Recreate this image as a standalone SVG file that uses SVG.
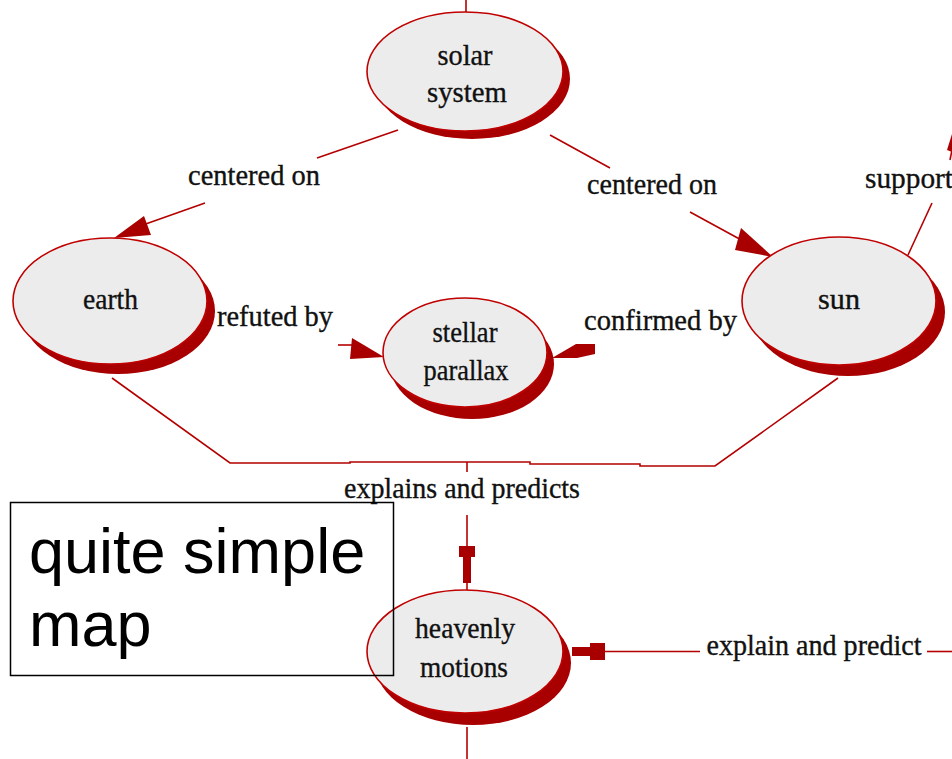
<svg xmlns="http://www.w3.org/2000/svg" width="952" height="759" viewBox="0 0 952 759">
<style>
.shadow{fill:#a80000;stroke:none}
.node{fill:#ececec;stroke:#c00000;stroke-width:1.6}
.lbl{font-family:"Liberation Serif","DejaVu Serif",serif;font-size:29px;fill:#111;stroke:#111;stroke-width:0.35;text-anchor:middle}
.ln{fill:none;stroke:#b40000;stroke-width:1.6}
.ah{fill:#a80000;stroke:none}
.note{fill:none;stroke:#000;stroke-width:1.5}
.notetxt{font-family:"Liberation Sans",Arial,sans-serif;font-size:63px;fill:#000}
</style>
<rect width="952" height="759" fill="#fff"/>
<g id="connectors">
  <line class="ln" x1="466" y1="0" x2="466" y2="13"/>
  <!-- solar system -> earth -->
  <line class="ln" x1="398" y1="130" x2="317" y2="158"/>
  <line class="ln" x1="205" y1="203" x2="140" y2="226"/>
  <polygon class="ah" points="114,238 144,216 151,235"/>
  <!-- solar system -> sun -->
  <line class="ln" x1="550" y1="135" x2="610" y2="168"/>
  <line class="ln" x1="690" y1="212" x2="745" y2="242"/>
  <polygon class="ah" points="735,250 741,228 773,257"/>
  <!-- earth -> stellar parallax -->
  <line class="ln" x1="338" y1="345" x2="352" y2="345"/>
  <polygon class="ah" points="352,338 384,357 350,359"/>
  <!-- sun -> stellar parallax -->
  <polygon class="ah" points="552,358 576,344 595,344 595,354 577,358"/>
  <!-- earth & sun -> heavenly motions -->
  <polyline class="ln" points="112,378 230,463 350,463 350,462 530,462 530,464 640,464 640,466 715,466 838,378"/>
  <line class="ln" x1="467" y1="462" x2="467" y2="472"/>
  <line class="ln" x1="467" y1="515" x2="467" y2="590"/>
  <polygon class="ah" points="459,546 475,546 475,557 471,557 471,583 463,583 463,557 459,557"/>
  <!-- sun -> supports -->
  <line class="ln" x1="908" y1="255" x2="932" y2="203"/>
  <polygon class="ah" points="947,150 952,134 952,152"/>
  <line class="ln" x1="950" y1="160" x2="952" y2="150"/>
  <!-- explain and predict -> heavenly motions -->
  <line class="ln" x1="605" y1="651.5" x2="700" y2="651.5"/>
  <line class="ln" x1="927" y1="651.5" x2="952" y2="651.5"/>
  <polygon class="ah" points="572,647 590,647 590,643 605,643 605,660 590,660 590,656 572,656"/>
  <!-- heavenly motions downward -->
  <line class="ln" x1="467" y1="727" x2="467" y2="759"/>
</g>
<g id="solar-system">
  <ellipse class="shadow" cx="472" cy="79" rx="98" ry="60"/>
  <ellipse class="node" cx="465" cy="71.5" rx="98" ry="59.5"/>
  <text class="lbl" x="465" y="65" textLength="55" lengthAdjust="spacingAndGlyphs">solar</text>
  <text class="lbl" x="467" y="102" textLength="80" lengthAdjust="spacingAndGlyphs">system</text>
</g>
<g id="earth">
  <ellipse class="shadow" cx="118" cy="311" rx="97" ry="63"/>
  <ellipse class="node" cx="110" cy="301" rx="97" ry="63"/>
  <text class="lbl" x="110.5" y="309" textLength="55" lengthAdjust="spacingAndGlyphs">earth</text>
</g>
<g id="sun">
  <ellipse class="shadow" cx="848" cy="312" rx="97" ry="64"/>
  <ellipse class="node" cx="839" cy="301" rx="97" ry="64"/>
  <text class="lbl" x="839" y="309" textLength="42" lengthAdjust="spacingAndGlyphs">sun</text>
</g>
<g id="stellar-parallax">
  <ellipse class="shadow" cx="472" cy="364" rx="82" ry="55"/>
  <ellipse class="node" cx="465" cy="352.5" rx="82" ry="54.5"/>
  <text class="lbl" x="465" y="342" textLength="65" lengthAdjust="spacingAndGlyphs">stellar</text>
  <text class="lbl" x="466" y="380" textLength="85" lengthAdjust="spacingAndGlyphs">parallax</text>
</g>
<g id="heavenly-motions">
  <ellipse class="shadow" cx="473" cy="663" rx="98" ry="62"/>
  <ellipse class="node" cx="465" cy="651.5" rx="98" ry="61.5"/>
  <text class="lbl" x="465" y="638" textLength="100" lengthAdjust="spacingAndGlyphs">heavenly</text>
  <text class="lbl" x="464" y="677" textLength="88" lengthAdjust="spacingAndGlyphs">motions</text>
</g>
<g id="labels">
  <text class="lbl" x="254" y="185" textLength="132" lengthAdjust="spacingAndGlyphs">centered on</text>
  <text class="lbl" x="652" y="194" textLength="130" lengthAdjust="spacingAndGlyphs">centered on</text>
  <text class="lbl" x="275" y="326" textLength="116" lengthAdjust="spacingAndGlyphs">refuted by</text>
  <text class="lbl" x="660.5" y="330" textLength="153" lengthAdjust="spacingAndGlyphs">confirmed by</text>
  <text class="lbl" x="462" y="498" textLength="236" lengthAdjust="spacingAndGlyphs">explains and predicts</text>
  <text class="lbl" x="814" y="655" textLength="215" lengthAdjust="spacingAndGlyphs">explain and predict</text>
  <text class="lbl" x="865" y="188" textLength="88" lengthAdjust="spacingAndGlyphs" style="text-anchor:start">support</text>
</g>
<g id="note">
  <rect class="note" x="10.5" y="502.5" width="383" height="173"/>
  <text class="notetxt" x="29" y="573">quite simple</text>
  <text class="notetxt" x="29" y="646">map</text>
</g>
</svg>
